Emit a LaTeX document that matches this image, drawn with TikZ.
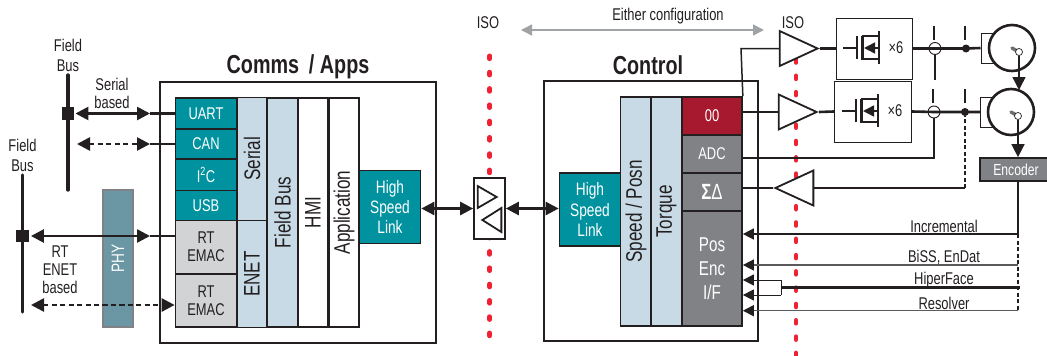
\documentclass[tikz,border=0pt]{standalone}
\usepackage{fontspec}
\setmainfont[FakeStretch=0.76]{Liberation Sans}
\usetikzlibrary{
    arrows.meta,
    shapes.geometric
}
\definecolor{inkk}{HTML}{231F20}
\definecolor{tealb}{HTML}{00929F}
\definecolor{paleb}{HTML}{C7DAE5}
\definecolor{greyl}{HTML}{D1D3D4}
\definecolor{greyd}{HTML}{808285}
\definecolor{phyb}{HTML}{6A97A3}
\definecolor{crim}{HTML}{A6192E}
\definecolor{isor}{HTML}{EE2233}
\definecolor{arrg}{HTML}{A0A3A6}
\tikzset{
    block/.style={draw=inkk,line width=1.7pt,inner sep=0pt,align=center,text=white,font=\fontsize{17}{18}\selectfont},
    lane/.style={block,rotate=90,text=inkk,font=\fontsize{22.5}{24}\selectfont},
    title/.style={inner sep=0pt,text=inkk,font=\fontsize{26}{28}\selectfont\bfseries},
    note/.style={inner sep=0pt,align=center,text=inkk,font=\fontsize{17}{18}\selectfont},
    frame/.style={draw=inkk,line width=2pt},
    wire/.style={draw=inkk,line width=1.5pt},
    bus/.style={draw=inkk,line width=2.6pt},
    dashbus/.style={bus,dash pattern=on 5pt off 3.5pt},
    dashwire/.style={wire,dash pattern=on 4pt off 2.5pt},
    amp/.style={draw=inkk,line width=1.8pt,fill=white,isosceles triangle,isosceles triangle stretches,inner sep=0pt,anchor=apex},
    dotsep/.style={draw=isor,line width=4.6pt,line cap=round,dash pattern=on 3pt off 13.3pt},
    tip/.style={>={Triangle[length=13pt,width=13pt,color=inkk,fill=inkk]}},
    smalltip/.style={>={Triangle[length=11pt,width=11pt,color=inkk,fill=inkk]}}
}
\begin{document}
\begin{tikzpicture}[x=1pt,y=-1pt]
    \useasboundingbox (0,0) rectangle (1047,356);

    % isolation barriers
    \draw[dotsep] (489.7,55.8) -- (489.7,336);
    \draw[dotsep] (796,59.5) -- (796,356);

    % comms side
    \node[frame,minimum width=276,minimum height=261] (commsbox) at (298,212.5) {};
    \node[title] (commstitle) at (298,67) {Comms\, / Apps};
    \node[block,fill=tealb,minimum width=61,minimum height=31] (uart) at (206,113.5) {UART};
    \node[block,fill=tealb,minimum width=61,minimum height=30] (can) at (206,144) {CAN};
    \node[block,fill=tealb,minimum width=61,minimum height=31] (itwoc) at (206,175) {I\textsuperscript{2}C};
    \node[block,fill=tealb,minimum width=61,minimum height=30] (usb) at (206,205.5) {USB};
    \node[block,fill=greyl,text=inkk,minimum width=61,minimum height=53] (emaca) at (206,247) {RT\\EMAC};
    \node[block,fill=greyl,text=inkk,minimum width=61,minimum height=53] (emacb) at (206,300.5) {RT\\EMAC};
    \node[lane,fill=paleb,minimum width=123,minimum height=30.5] (serial) at (252,159) {Serial};
    \node[lane,fill=paleb,minimum width=107,minimum height=30.5] (enet) at (252,274) {ENET};
    \node[lane,fill=paleb,minimum width=229,minimum height=30.5] (fieldbus) at (282.5,212.5) {Field Bus};
    \node[lane,fill=white,minimum width=229,minimum height=30.5] (hmi) at (313,212.5) {HMI};
    \node[lane,fill=white,minimum width=229,minimum height=30.5] (application) at (344,212.5) {Application};
    \node[block,fill=tealb,minimum width=61,minimum height=73,font=\fontsize{18}{20.3}\selectfont] (linka) at (390,207) {High\\Speed\\Link};

    % field buses
    \node[note,font=\fontsize{17}{20}\selectfont] (busalabel) at (68,55) {Field\\Bus};
    \node[note,font=\fontsize{17}{20}\selectfont] (busblabel) at (22.5,155) {Field\\Bus};
    \coordinate (busatop) at (68,75);
    \coordinate (busabot) at (68,190);
    \coordinate (busbtop) at (22.5,175);
    \coordinate (busbbot) at (22.5,312);
    \draw[bus,line width=3.4pt,line cap=round] (busatop) -- (busabot);
    \draw[bus,line width=3.4pt,line cap=round] (busbtop) -- (busbbot);
    \node[fill=inkk,minimum size=12.5,inner sep=0pt] (busasq) at (68,113.5) {};
    \node[fill=inkk,minimum size=12.5,inner sep=0pt] (busbsq) at (22.5,236) {};
    \node[block,fill=phyb,rotate=90,draw=greyd,minimum width=137,minimum height=30,font=\fontsize{18}{20}\selectfont] (phy) at (118,258.5) {PHY};
    \node[note] (seriallabel) at (112,93.5) {Serial\\based};
    \node[note] (rtlabel) at (60,269.5) {RT\\ENET\\based};

    % bus arrows
    \coordinate (uartmid) at (150,113.5);
    \coordinate (canmid) at (150,144);
    \coordinate (canend) at (77,144);
    \coordinate (emacamid) at (150,236);
    \coordinate (emacbend) at (31,305);
    \draw[bus,tip,<->] (busasq.east) ++(1,0) -- (uartmid);
    \draw[bus] (uartmid) -- (uart.west);
    \draw[dashbus,tip,<->] (canend) -- (canmid);
    \draw[bus] (canmid) -- (can.west);
    \draw[bus,tip,<-] (busbsq.east) ++(2,0) -- (phy.south |- busbsq);
    \draw[bus,tip,->] (phy.north |- busbsq) -- (emacamid);
    \draw[bus] (emacamid) -- (emaca.west |- emacamid);
    \draw[dashbus,tip,<-] (emacbend) -- (phy.south |- emacbend);
    \draw[dashbus,tip,->] (phy.north |- emacbend) -- (emacb.west |- emacbend);

    % isolator between the two links
    \node[block,fill=white,minimum width=31,minimum height=61] (isobox) at (489.5,208.5) {};
    \node[amp,minimum width=22,minimum height=19] (isoright) at (499,197) {};
    \node[amp,shape border rotate=180,minimum width=24,minimum height=19] (isoleft) at (480,220) {};
    \node[note] (isolabel) at (488,23) {ISO};
    \node[note] (eitherlabel) at (668,16) {Either configuration};
    \coordinate (eitherleft) at (521,30);
    \coordinate (eitherright) at (764,30);
    \draw[draw=arrg,line width=1.5pt,>={Triangle[length=11pt,width=11pt]},<->] (eitherleft) -- (eitherright);
    \draw[bus,tip,<->] (linka.east |- isobox) -- (isobox.west);

    % control side
    \node[frame,minimum width=214,minimum height=260] (controlbox) at (651,211) {};
    \node[title] (controltitle) at (648,65) {Control};
    \node[block,fill=tealb,minimum width=61,minimum height=73,font=\fontsize{18}{20.3}\selectfont] (linkb) at (590,209.5) {High\\Speed\\Link};
    \node[lane,fill=paleb,minimum width=229,minimum height=31] (speedposn) at (636,211.5) {Speed / Posn};
    \node[lane,fill=paleb,minimum width=229,minimum height=31] (torque) at (666.5,211.5) {Torque};
    \node[block,fill=crim,minimum width=60,minimum height=38] (oo) at (712,116) {00};
    \node[block,fill=greyd,minimum width=60,minimum height=38] (adc) at (712,154) {ADC};
    \node[block,fill=greyd,minimum width=60,minimum height=38,font=\fontsize{22}{24}\selectfont] (sigmadelta) at (712,192) {\textbf{Σ}Δ};
    \node[block,fill=greyd,minimum width=60,minimum height=115,font=\fontsize{20}{24}\selectfont] (posenc) at (712,268.5) {Pos\\Enc\\I/F};
    \draw[bus,tip,<->] (isobox.east) -- (linkb.west |- isobox);

    % drive stage
    \node[note] (isolabelb) at (793,23) {ISO};
    \node[amp,minimum width=35,minimum height=38] (ampa) at (820,48.5) {};
    \node[amp,minimum width=35,minimum height=38] (ampb) at (819,112) {};
    \node[amp,shape border rotate=180,minimum width=35,minimum height=38] (ampc) at (773,188) {};
    \node[draw=inkk,line width=.9pt,minimum width=76,minimum height=61,inner sep=0pt] (feta) at (874,48.5) {};
    \node[draw=inkk,line width=.9pt,minimum width=77,minimum height=61,inner sep=0pt] (fetb) at (873,111.5) {};
    \foreach \nm/\xx/\yy in {a/0/48,b/-1/111}{
        \begin{scope}[shift={(\xx,\yy)}]
            \draw[wire] (843,0) -- (856,0);
            \draw[line width=2.2pt,draw=inkk] (857,-12) -- (857,11);
            \draw[line width=2.2pt,draw=inkk] (862.5,-12) -- (862.5,12);
            \draw[wire] (862,-12) -- (879,-12);
            \draw[wire,smalltip,<-] (864,0) -- (879,0);
            \draw[wire] (862,11) -- (879,11);
            \draw[wire] (879,-17) -- (879,16);
        \end{scope}
        \node[note] (times\nm) at (896+\xx,\yy) {×6};
    }

    % phase wires, sensors and motors
    \foreach \xx/\yy in {934/26,965/26,933/89,965/89}{
        \draw[wire] (\xx,\yy) -- (\xx,\yy+14);
    }
    \node[draw=inkk,fill=white,line width=1pt,minimum width=19,minimum height=30,inner sep=0pt] (bracka) at (990.5,48) {};
    \node[draw=inkk,fill=white,line width=1pt,minimum width=19,minimum height=30,inner sep=0pt] (brackb) at (990,112) {};
    \node[circle,draw=inkk,fill=white,line width=2.6pt,minimum size=46,inner sep=0pt] (motora) at (1012,48) {};
    \node[circle,draw=inkk,fill=white,line width=2.6pt,minimum size=46,inner sep=0pt] (motorb) at (1011,112) {};
    \node[circle,draw=inkk,fill=white,line width=.9pt,minimum size=12,inner sep=0pt] (ringa) at (935,48.5) {};
    \node[circle,draw=inkk,fill=white,line width=.9pt,minimum size=12,inner sep=0pt] (ringb) at (934,112) {};
    \node[circle,fill=inkk,minimum size=8,inner sep=0pt] (joina) at (966,48.5) {};
    \node[circle,fill=inkk,minimum size=8,inner sep=0pt] (joinb) at (965,112) {};
    \draw[bus] (ampa.apex) -- (feta.west);
    \draw[bus] (ampb.apex) -- (fetb.west);
    \draw[bus] (feta.east) -- (ringa.center) -- (joina.center) -- (bracka.west);
    \draw[bus] (fetb.east) -- (ringb.center) -- (joinb.center) -- (brackb.west);
    \draw[line width=3.4pt,draw=greyd!80!inkk,line cap=round] (motora.center) -- (1019,52);
    \draw[line width=3.4pt,draw=greyd!80!inkk,line cap=round] (motorb.center) -- (1018,116);
    \node[circle,draw=inkk,fill=white,line width=.7pt,minimum size=7,inner sep=0pt] (shafta) at (1019,52) {};
    \node[circle,draw=inkk,fill=white,line width=.7pt,minimum size=7,inner sep=0pt] (shaftb) at (1018,116) {};
    \node[block,fill=greyd,minimum width=72,minimum height=23,font=\fontsize{16}{17}\selectfont] (encoder) at (1016,169.5) {Encoder};
    \coordinate (motorbtop) at (1019,90);
    \draw[wire,tip,->] (shafta.south) -- (motorbtop);
    \draw[wire,tip,->] (shaftb.south) -- (shaftb.south |- encoder.north);

    % wires from the control block
    \coordinate (ooturn) at (741,48.5);
    \coordinate (adcturn) at (934,158);
    \coordinate (ringcut) at (935,80);
    \draw[wire] (oo.north east) -- (ooturn) -- (ampa.lower side);
    \draw[wire] (oo.east |- ampb) -- (ampb.lower side);
    \draw[wire] (adc.east |- adcturn) -- (adcturn) -- (ringb.south);
    \draw[wire] (ringa.south) -- (ringcut);
    \draw[wire] (sigmadelta.east |- ampc.apex) -- (ampc.apex);
    \coordinate (sdturn) at (965,188);
    \draw[wire] (ampc.lower side) -- (sdturn);
    \draw[dashwire] (sdturn) -- (joinb.south);

    % position feedback
    \coordinate (incr) at (1018,234);
    \coordinate (biss) at (1018,265);
    \coordinate (hiper) at (1020,287.7);
    \coordinate (resol) at (1018,310.7);
    \coordinate (hipersplit) at (781,287.7);
    \coordinate (hiperup) at (781,280);
    \coordinate (hiperdn) at (781,295);
    \draw[wire] (encoder.south -| incr) -- (incr);
    \draw[dashwire] (incr) -- (resol);
    \draw[wire,smalltip,->] (incr) -- (posenc.east |- incr);
    \draw[wire,draw=greyd!60!inkk,smalltip,->] (biss) -- (posenc.east |- biss);
    \draw[wire,draw=greyd!60!inkk,smalltip,->] (resol) -- (posenc.east |- resol);
    \draw[bus] (hiper) -- (hipersplit);
    \draw[wire,line width=1pt] (hiperup) -- (hiperdn);
    \draw[wire,line width=1pt,smalltip,->] (hiperup) -- (posenc.east |- hiperup);
    \draw[wire,line width=1pt,smalltip,->] (hiperdn) -- (posenc.east |- hiperdn);
    \node[note] (incrlabel) at (944,226) {Incremental};
    \node[note] (bisslabel) at (944,257) {BiSS, EnDat};
    \node[note] (hiperlabel) at (944,280) {HiperFace};
    \node[note] (resollabel) at (944,303) {Resolver};
\end{tikzpicture}
\end{document}
